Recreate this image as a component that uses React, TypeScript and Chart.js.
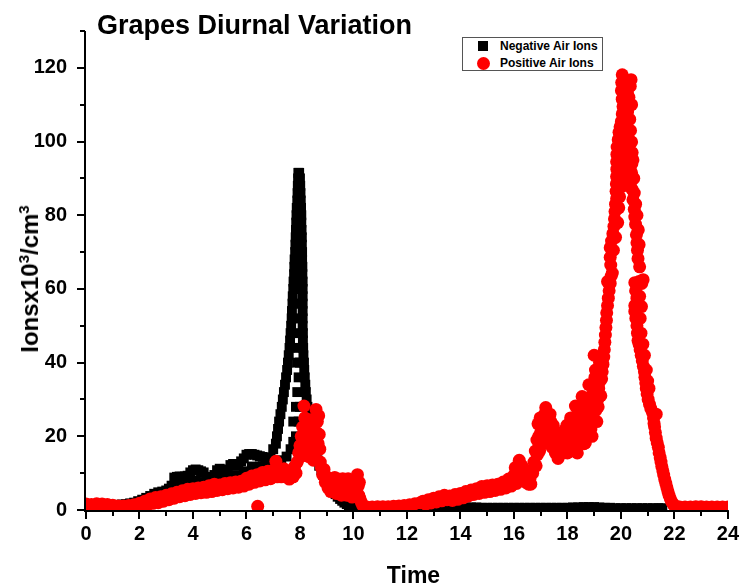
import React, { useEffect, useRef } from "react";
import { Chart, registerables } from "chart.js";

Chart.register(...registerables);

const FONT = "'Liberation Sans', Arial, Helvetica, sans-serif";

const chartTitle = "Grapes Diurnal Variation";
const xAxisTitle = "Time";
const negLabel = "Negative Air Ions";
const posLabel = "Positive Air Ions";

const xMin = 0;
const xMax = 24;
const xStep = 2;
const yMin = 0;
const yMax = 130;
const yStep = 20;

// ---- Negative air ions (black squares), [time in h, ions x10^3/cm^3] ----
const negMorning: [number, number][] = [
  [0, 1.0], [0.15, 1.0], [0.3, 1.0], [0.45, 1.1], [0.6, 1.1], [0.75, 1.2], [0.9, 1.2], [1.05, 1.3], [1.2, 1.4], [1.35, 1.5],
  [1.5, 1.6], [1.65, 1.8], [1.8, 2.0], [1.95, 2.4], [2.1, 2.8], [2.25, 3.3], [2.4, 3.8], [2.55, 4.4], [2.7, 4.8], [2.85, 5.0],
  [3.0, 5.3], [3.1, 5.8], [3.2, 6.6], [3.3, 8.8], [3.4, 9.0], [3.5, 9.1], [3.6, 9.0], [3.7, 9.1], [3.8, 9.3], [3.9, 10.2],
  [4.0, 10.8], [4.1, 11.0], [4.2, 10.8], [4.3, 10.5], [4.4, 10.2], [4.5, 9.0], [4.6, 8.6], [4.7, 8.6], [4.8, 9.5], [4.9, 10.8],
  [5.0, 11.2], [5.1, 11.0], [5.2, 10.8], [5.3, 10.6], [5.4, 12.2], [5.5, 12.5], [5.6, 12.4], [5.7, 12.2], [5.8, 13.2], [5.9, 14.0],
  [6.0, 15.0], [6.1, 15.2], [6.2, 15.2], [6.3, 15.0], [6.4, 14.8], [6.5, 14.6], [6.6, 14.4], [6.7, 14.0], [6.8, 14.0], [6.9, 14.3],
  [7.0, 16.5],
  [2.6, 3.0], [2.9, 3.6], [3.2, 4.8], [3.5, 6.5], [3.8, 7.0], [4.1, 8.0], [4.4, 7.6], [4.7, 6.8], [5.0, 8.2], [5.3, 8.5],
  [5.6, 9.5], [5.9, 10.5], [6.2, 11.8], [6.5, 11.8], [6.8, 11.5], [7.1, 12.5], [7.3, 13.5], [7.5, 14.5], [7.65, 16.5], [7.75, 18.5],
];

const negSpike: [number, number][] = [
  [7.1, 18], [7.14, 20], [7.18, 22], [7.22, 24], [7.27, 26], [7.32, 28], [7.36, 30], [7.4, 32], [7.44, 34], [7.48, 36],
  [7.52, 38], [7.55, 40], [7.58, 42], [7.61, 44], [7.63, 46], [7.65, 48], [7.67, 50], [7.69, 52], [7.7, 54], [7.72, 56],
  [7.73, 58], [7.75, 60], [7.76, 62], [7.78, 64], [7.79, 66], [7.8, 68], [7.82, 70], [7.83, 72], [7.84, 74], [7.85, 76],
  [7.86, 78], [7.87, 80], [7.88, 82], [7.9, 84], [7.91, 86], [7.92, 88], [7.93, 90], [7.94, 91.5], [7.97, 91.5], [8.0, 90],
  [8.01, 88], [8.02, 86], [8.03, 84], [8.04, 82], [8.05, 80], [8.05, 78], [8.06, 76], [8.07, 74], [8.07, 72], [8.08, 70],
  [8.08, 68], [8.09, 66], [8.09, 64], [8.1, 62], [8.1, 60], [8.1, 58], [8.1, 56], [8.1, 54], [8.1, 52], [8.1, 50],
  [8.11, 48], [8.11, 46], [8.12, 44], [8.13, 42], [8.15, 40], [8.16, 38], [8.18, 36], [8.2, 34], [8.22, 32], [8.25, 30],
  [8.28, 28], [8.31, 26], [8.34, 24], [8.38, 22], [8.42, 20], [8.47, 18], [8.52, 16.5], [8.58, 15], [8.65, 13.5], [8.72, 12],
  [8.8, 10.8], [8.87, 9.6], [8.95, 8.5], [9.02, 7.5], [9.1, 6.6], [9.17, 5.8], [9.25, 5.0], [9.33, 4.3], [9.41, 3.6], [9.5, 3.0],
  [9.58, 2.5], [9.66, 2.0], [9.75, 1.6], [9.83, 1.3], [9.92, 1.0], [10.0, 0.8],
  [7.85, 20], [7.95, 24], [8.0, 28], [7.9, 32], [7.95, 36], [8.0, 40], [7.95, 44], [8.0, 48], [7.92, 56], [8.0, 64],
  [7.95, 72], [8.0, 80],
  [7.93, 52], [7.93, 60], [7.94, 68], [7.95, 76], [7.96, 84], [7.9, 40], [7.85, 28], [7.75, 24],
];

const negNight: [number, number][] = [
  [10.2, 0.5], [10.4, 0.4], [10.6, 0.4], [10.8, 0.4], [11.0, 0.4], [11.2, 0.4], [11.4, 0.4], [11.6, 0.4], [11.8, 0.4], [12.0, 0.4],
  [12.2, 0.4], [12.4, 0.5], [12.6, 0.5], [12.8, 0.6], [13.0, 0.6], [13.2, 0.6], [13.4, 0.7], [13.6, 0.7], [13.8, 0.6], [14.0, 0.6],
  [14.2, 0.7], [14.4, 0.7], [14.6, 0.7], [14.8, 0.6], [15.0, 0.6], [15.2, 0.6], [15.4, 0.6], [15.6, 0.6], [15.8, 0.6], [16.0, 0.6],
  [16.2, 0.6], [16.4, 0.6], [16.6, 0.6], [16.8, 0.6], [17.0, 0.6], [17.2, 0.6], [17.4, 0.6], [17.6, 0.6], [17.8, 0.6], [18.0, 0.6],
  [18.2, 0.7], [18.4, 0.7], [18.6, 0.8], [18.8, 0.8], [19.0, 0.8], [19.2, 0.7], [19.4, 0.6], [19.6, 0.6], [19.8, 0.5], [20.0, 0.5],
  [20.2, 0.5], [20.4, 0.5], [20.6, 0.5], [20.8, 0.5], [21.0, 0.5], [21.2, 0.5], [21.4, 0.5], [21.55, 0.5],
];

// ---- Positive air ions (red circles) ----
const posMorning: [number, number][] = [
  [0.0, 1.6], [0.1, 0.9], [0.2, 1.5], [0.3, 1.0], [0.4, 1.7], [0.5, 1.0], [0.6, 1.6], [0.7, 0.9], [0.8, 1.5], [0.9, 0.9],
  [1.0, 1.3], [1.1, 0.8], [1.2, 1.1], [1.3, 0.8], [1.4, 1.1], [1.5, 0.9], [1.6, 1.2], [1.7, 1.0], [1.8, 1.4], [1.9, 1.1],
  [2.0, 1.8], [2.1, 1.2], [2.2, 2.4], [2.3, 1.4], [2.4, 3.0], [2.5, 1.8], [2.6, 3.4], [2.7, 2.0], [2.8, 3.6], [2.9, 2.4],
  [3.0, 4.0], [3.1, 2.8], [3.2, 4.4], [3.3, 3.2], [3.4, 4.8], [3.5, 3.6], [3.6, 5.2], [3.7, 3.9], [3.8, 5.6], [3.9, 4.2],
  [4.0, 5.8], [4.1, 4.5], [4.2, 6.0], [4.3, 4.7], [4.4, 6.2], [4.5, 4.8], [4.6, 6.6], [4.7, 5.0], [4.8, 7.0], [4.9, 5.3],
  [5.0, 6.8], [5.1, 5.5], [5.2, 7.2], [5.3, 5.8], [5.4, 7.4], [5.5, 6.0], [5.6, 7.6], [5.7, 6.2], [5.8, 7.8], [5.9, 6.5],
  [6.0, 8.6], [6.1, 7.0], [6.2, 9.2], [6.3, 7.5], [6.4, 9.6], [6.42, 1.0], [6.5, 7.9], [6.6, 10.2], [6.7, 8.2], [6.8, 10.5],
  [6.9, 8.5], [7.0, 10.8], [7.1, 13.2], [7.15, 9.0], [7.2, 11.0], [7.3, 9.0], [7.4, 11.2], [7.5, 9.0], [7.6, 8.4], [7.7, 10.5],
  [7.75, 9.0], [7.8, 11.8], [7.85, 10.0], [7.9, 13.0],
];

const posMorningPeak: [number, number][] = [
  [7.95, 15.5], [8.0, 17.5], [8.02, 14.5], [8.05, 20.0], [8.08, 16.0], [8.1, 22.5], [8.12, 18.0], [8.15, 28.2], [8.18, 25.0], [8.2, 21.5],
  [8.23, 18.0], [8.25, 23.5], [8.28, 16.5], [8.3, 20.0], [8.33, 14.5], [8.35, 22.5], [8.38, 17.5], [8.4, 24.5], [8.43, 19.5], [8.45, 15.0],
  [8.48, 21.5], [8.5, 13.5], [8.53, 18.5], [8.55, 23.5], [8.58, 16.0], [8.6, 27.3], [8.63, 21.0], [8.65, 24.0], [8.68, 18.0], [8.7, 25.6],
  [8.72, 20.5], [8.74, 16.5], [8.76, 13.0], [8.8, 11.5], [8.85, 9.5], [8.9, 11.0], [8.95, 7.5], [9.0, 9.0], [9.05, 6.0], [9.1, 8.5],
  [9.15, 5.0], [9.2, 8.0], [9.25, 5.5], [9.3, 8.8], [9.35, 4.5], [9.4, 8.5], [9.45, 5.5], [9.5, 7.5], [9.55, 4.0], [9.6, 8.5],
  [9.65, 6.0], [9.7, 8.0], [9.75, 4.0], [9.8, 8.5], [9.85, 5.0], [9.9, 7.5], [9.95, 3.5], [10.0, 7.0], [10.05, 4.5], [10.1, 8.5],
  [10.15, 9.6], [10.18, 6.5], [10.2, 4.0], [10.22, 7.5], [10.25, 3.0], [10.3, 2.0], [10.35, 1.2],
];

const posNight: [number, number][] = [
  [10.5, 0.8], [10.7, 0.8], [10.9, 0.9], [11.1, 0.9], [11.3, 0.9], [11.5, 1.0], [11.7, 1.1], [11.9, 1.2], [12.1, 1.4], [12.3, 1.7],
  [12.5, 2.0],
];

const posEvening: [number, number][] = [
  [12.6, 2.4], [12.7, 1.6], [12.8, 2.8], [12.9, 1.9], [13.0, 3.2], [13.1, 2.2], [13.2, 3.6], [13.3, 2.5], [13.4, 4.0], [13.5, 2.8],
  [13.6, 3.8], [13.7, 2.6], [13.8, 4.2], [13.9, 2.9], [14.0, 4.5], [14.1, 3.3], [14.2, 5.0], [14.3, 3.8], [14.4, 5.4], [14.5, 4.2],
  [14.6, 5.8], [14.7, 4.5], [14.8, 6.4], [14.9, 4.8], [15.0, 6.6], [15.1, 5.0], [15.2, 6.8], [15.3, 5.3], [15.4, 7.0], [15.5, 5.6],
  [15.6, 7.6], [15.7, 6.0], [15.8, 8.4], [15.9, 6.5], [16.0, 9.4], [16.05, 11.5], [16.1, 7.2], [16.15, 12.0], [16.2, 13.5], [16.25, 10.0],
  [16.3, 12.0], [16.35, 8.5], [16.4, 11.0], [16.45, 7.5], [16.5, 10.0], [16.55, 7.0], [16.6, 8.5], [16.63, 7.0], [16.7, 10.0], [16.75, 13.0],
  [16.8, 16.0], [16.83, 12.0], [16.86, 19.0], [16.9, 23.4], [16.93, 20.0], [16.96, 16.0], [17.0, 21.0], [17.05, 18.0], [17.1, 24.0], [17.15, 26.0],
  [17.19, 27.8], [17.23, 24.5], [17.27, 22.0], [17.3, 25.0], [17.35, 19.0], [17.4, 22.0], [17.43, 17.0], [17.47, 23.0], [17.5, 19.5], [17.55, 15.5],
  [17.6, 18.0], [17.65, 14.0], [17.7, 20.0], [17.75, 16.5], [17.8, 21.0], [17.85, 15.5], [17.9, 21.7], [17.95, 18.0], [18.0, 15.5], [18.05, 19.0],
  [18.1, 16.0], [18.15, 22.0], [18.2, 25.0], [18.25, 17.0], [18.3, 28.2], [18.33, 21.0], [18.37, 15.5], [18.42, 19.0], [18.47, 24.0], [18.5, 27.0],
  [18.55, 30.8], [18.58, 22.0], [18.62, 18.0], [18.67, 18.2], [18.7, 24.0], [18.75, 29.0], [18.8, 34.0], [18.85, 27.0], [18.88, 22.0], [18.92, 20.0],
  [16.88, 15.0], [16.98, 25.0], [17.08, 20.0], [17.15, 22.0], [17.22, 19.5], [17.35, 26.0], [17.38, 24.0], [17.62, 16.5], [17.72, 17.5], [17.88, 18.5],
  [17.98, 23.0], [18.08, 21.0], [18.12, 25.0], [18.18, 19.0], [18.28, 23.0], [18.4, 26.5], [18.45, 21.5], [18.52, 18.5], [18.6, 26.0], [18.65, 28.5],
  [18.72, 21.0], [18.78, 25.0], [18.82, 30.0], [18.9, 31.0],
];

const posEveningPeak: [number, number][] = [
  [18.95, 25], [19.0, 30], [19.0, 42], [19.03, 36], [19.06, 27], [19.1, 24], [19.13, 30], [19.17, 33], [19.22, 35], [19.28, 35.6],
  [19.3, 37.5], [19.33, 39.5], [19.36, 41.5], [19.38, 43.5], [19.4, 45.5], [19.42, 47.5], [19.44, 49.5], [19.46, 51.5], [19.47, 53.5], [19.5, 55.5],
  [19.53, 57.5], [19.56, 59.5], [19.6, 61.5], [19.64, 63.5], [19.68, 64.3], [19.62, 66.5], [19.6, 68.6], [19.6, 71.2], [19.65, 73.0], [19.7, 75.0],
  [19.74, 77.0], [19.76, 79.0], [19.78, 81.0], [19.8, 83.0], [19.84, 84.5], [19.82, 86.5], [19.83, 88.5], [19.84, 90.5], [19.85, 92.5], [19.84, 94.5],
  [19.85, 96.5], [19.86, 98.5], [19.9, 100.5], [19.93, 102.5], [19.97, 104.0], [20.02, 105.5], [20.05, 107.5], [20.08, 109.5], [20.05, 111.5], [20.02, 113.8],
  [20.03, 116.0], [20.05, 118.1],
  [19.05, 38], [19.1, 33], [19.15, 28], [19.2, 40], [19.25, 31], [19.5, 62], [19.72, 70.5], [19.8, 74], [19.88, 78], [19.92, 82],
  [19.95, 85], [19.98, 95], [20.0, 99], [20.08, 103], [20.15, 106], [20.2, 110], [20.25, 113], [20.15, 112],
  [19.95, 88], [20.0, 92], [20.05, 96], [20.1, 100], [20.15, 93], [20.2, 97], [20.1, 88], [20.2, 104], [20.25, 108], [20.3, 112],
  [20.35, 115], [20.38, 116.8], [20.33, 106], [20.28, 101], [20.3, 95], [20.25, 90], [20.35, 92],
  [20.4, 110], [20.36, 103], [20.4, 99.9], [20.42, 97], [20.41, 94], [20.4, 91.5], [20.4, 89.4], [20.42, 87], [20.45, 84.2], [20.5, 81.6],
  [20.52, 79.5], [20.55, 77.5], [20.58, 74.7], [20.6, 72.5], [20.62, 70.5], [20.64, 68.2], [20.52, 61.7], [20.83, 62.5], [20.78, 61.5], [20.55, 59.5],
  [20.6, 57.5], [20.52, 55.5], [20.52, 53.9], [20.77, 55.2], [20.56, 52], [20.6, 50], [20.62, 48], [20.64, 46], [20.68, 45], [20.72, 43.5],
  [20.76, 42], [20.8, 40.5], [20.84, 39], [20.88, 37.5], [20.9, 36], [20.93, 34.5], [20.95, 33], [20.98, 31.5], [21.02, 30], [21.07, 28.7],
  [21.12, 27.5], [21.18, 26.5], [21.32, 26.0], [21.22, 25], [21.24, 23.5], [21.26, 22.6], [21.29, 21], [21.32, 19.5], [21.36, 18.2], [21.4, 17],
  [21.43, 15.5], [21.47, 14.2], [21.5, 13], [21.53, 11.8], [21.57, 10.6], [21.6, 9.5], [21.64, 8.3], [21.68, 7.2], [21.72, 6.1], [21.76, 5.0],
  [21.8, 4.0], [21.85, 3.0], [21.9, 2.2], [21.95, 1.6], [22.0, 1.2], [22.1, 0.9],
  [20.45, 95], [20.48, 90], [20.5, 86], [20.55, 83], [20.6, 80], [20.65, 76], [20.68, 72], [20.7, 66], [20.7, 58], [20.72, 52],
  [20.68, 62], [20.75, 48], [20.82, 45], [20.88, 42], [20.95, 38], [21.0, 35], [21.05, 33],
];

const posLate: [number, number][] = [
  [22.2, 0.8], [22.4, 0.8], [22.6, 0.8], [22.8, 0.9], [23.0, 0.9], [23.2, 0.8], [23.4, 0.8], [23.6, 0.8], [23.8, 0.8], [24.0, 0.8],
];

const axisPlugin = {
  id: "originAxes",
  afterDraw(chart: any) {
    const { ctx, chartArea, scales } = chart;
    const xs = scales.x;
    const ys = scales.y;
    const left = chartArea.left - 1;
    const bottom = chartArea.bottom + 1;
    ctx.save();
    ctx.strokeStyle = "#000";
    ctx.lineWidth = 2;
    ctx.lineCap = "butt";
    ctx.beginPath();
    ctx.moveTo(left, chartArea.top);
    ctx.lineTo(left, bottom + 1);
    ctx.moveTo(left - 1, bottom);
    ctx.lineTo(chartArea.right + 1, bottom);
    for (let h = xMin; h <= xMax; h += 1) {
      const px = Math.round(xs.getPixelForValue(h));
      const len = h % xStep === 0 ? 7 : 4;
      ctx.moveTo(px, bottom);
      ctx.lineTo(px, bottom + 1 + len);
    }
    for (let v = yMin; v <= yMax; v += 10) {
      const py = Math.round(ys.getPixelForValue(v));
      const len = v % yStep === 0 ? 7 : 4;
      ctx.moveTo(left, py);
      ctx.lineTo(left - 1 - len, py);
    }
    ctx.stroke();
    ctx.restore();
  },
};

const toXY = (pts: [number, number][]) => pts.map(([x, y]) => ({ x, y }));

export default function App() {
  const canvasRef = useRef<HTMLCanvasElement | null>(null);

  useEffect(() => {
    if (!canvasRef.current) return;
    const negData = toXY([...negMorning, ...negSpike, ...negNight]);
    const posData = toXY([...posMorning, ...posMorningPeak, ...posNight, ...posEvening, ...posEveningPeak, ...posLate]);
    const tickFont = { family: FONT, size: 20, weight: "bold" as const };
    const chart = new Chart(canvasRef.current, {
      type: "scatter",
      data: {
        datasets: [
          {
            label: negLabel,
            data: negData,
            pointStyle: "rect",
            pointRadius: 7,
            pointHoverRadius: 7,
            backgroundColor: "#000000",
            borderColor: "#000000",
            borderWidth: 0,
            order: 1,
          },
          {
            label: posLabel,
            data: posData,
            pointStyle: "circle",
            pointRadius: 6.5,
            pointHoverRadius: 6.5,
            backgroundColor: "#ff0000",
            borderColor: "#ff0000",
            borderWidth: 0,
            order: 0,
          },
        ],
      },
      options: {
        responsive: false,
        animation: false,
        devicePixelRatio: 1,
        events: [],
        layout: { padding: { top: 11, right: 17, bottom: 0, left: 0 } },
        plugins: {
          legend: { display: false },
          tooltip: { enabled: false },
          title: { display: false },
        },
        scales: {
          x: {
            type: "linear",
            min: xMin,
            max: xMax,
            grid: { display: false, drawTicks: false },
            border: { display: false },
            ticks: {
              stepSize: xStep,
              padding: 12,
              color: "#000",
              font: tickFont,
              maxRotation: 0,
              autoSkip: false,
              includeBounds: false,
            },
            afterFit: (s: any) => {
              s.height = 78;
            },
          },
          y: {
            type: "linear",
            min: yMin,
            max: yMax,
            grid: { display: false, drawTicks: false },
            border: { display: false },
            ticks: {
              stepSize: yStep,
              padding: 19,
              color: "#000",
              font: tickFont,
              includeBounds: false,
            },
            afterFit: (s: any) => {
              s.width = 86;
            },
          },
        },
      },
      plugins: [axisPlugin],
    });
    return () => chart.destroy();
  }, []);

  const textBase: React.CSSProperties = {
    position: "absolute",
    fontFamily: FONT,
    fontWeight: "bold",
    color: "#000",
    whiteSpace: "nowrap",
    margin: 0,
  };
  const supStyle: React.CSSProperties = { fontSize: 15, lineHeight: 0, verticalAlign: "9px" };

  return (
    <div style={{ position: "absolute", left: 0, top: 0, width: 751, height: 588, background: "#fff", overflow: "hidden" }}>
      <canvas ref={canvasRef} width={751} height={588} style={{ position: "absolute", left: 0, top: 0, width: 751, height: 588 }} />
      <div style={{ ...textBase, left: 97, top: 12, fontSize: 27, lineHeight: "27px" }}>{chartTitle}</div>
      <div style={{ ...textBase, left: 413.5, top: 563.5, fontSize: 23, lineHeight: "23px", transform: "translateX(-50%)" }}>{xAxisTitle}</div>
      <div
        style={{
          ...textBase,
          left: 30,
          top: 279,
          fontSize: 24,
          lineHeight: "24px",
          transform: "translate(-50%, -50%) rotate(-90deg)",
        }}
      >
        Ionsx10<sup style={supStyle}>3</sup>/cm<sup style={supStyle}>3</sup>
      </div>
      <div
        style={{
          position: "absolute",
          left: 462,
          top: 37,
          width: 141,
          height: 34,
          boxSizing: "border-box",
          border: "1px solid #555",
          background: "#fff",
        }}
      />
      <div style={{ position: "absolute", left: 478, top: 41, width: 10, height: 10, background: "#000" }} />
      <div style={{ position: "absolute", left: 476.5, top: 56.5, width: 13, height: 13, borderRadius: "50%", background: "#ff0000" }} />
      <div style={{ ...textBase, left: 500, top: 39, fontSize: 12, lineHeight: "14px" }}>{negLabel}</div>
      <div style={{ ...textBase, left: 500, top: 56, fontSize: 12, lineHeight: "14px" }}>{posLabel}</div>
    </div>
  );
}
